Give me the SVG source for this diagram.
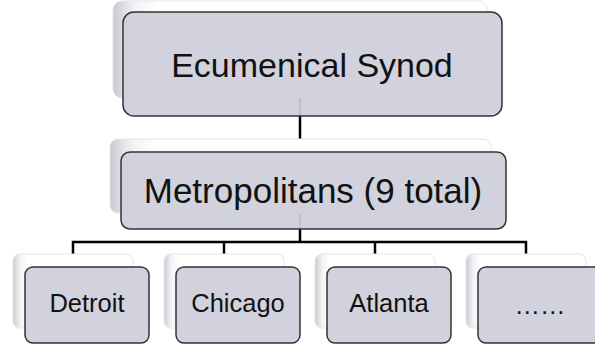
<svg xmlns="http://www.w3.org/2000/svg" width="595" height="345" viewBox="0 0 595 345">
  <defs>
    <linearGradient id="backGrad" x1="0" y1="0" x2="1" y2="0">
      <stop offset="0" stop-color="#c9c9d2"/>
      <stop offset="0.06" stop-color="#f3f3f6"/>
      <stop offset="0.12" stop-color="#ffffff"/>
      <stop offset="1" stop-color="#ffffff"/>
    </linearGradient>
  </defs>
  <style>
    .back { fill: url(#backGrad); stroke: #e4e4ea; stroke-width: 1; }
    .front { fill: #cfcfdc; fill-opacity: 0.93; stroke: #333333; stroke-width: 1.5; }
    .lbl { font-family: "Liberation Sans", Arial, sans-serif; fill: #111111; text-anchor: middle; }
    .conn { stroke: #000000; stroke-width: 2.5; fill: none; }
  </style>
  <rect width="595" height="345" fill="#ffffff"/>

  <g id="connectors">
    <line class="conn" x1="300" y1="98" x2="300" y2="139"/>
    <line class="conn" x1="300" y1="213" x2="300" y2="242"/>
    <polyline class="conn" points="73,254 73,242 526,242 526,254"/>
    <line class="conn" x1="224" y1="242" x2="224" y2="254"/>
    <line class="conn" x1="375" y1="242" x2="375" y2="254"/>
  </g>

  <g id="node-ecumenical-synod">
    <rect class="back" x="113" y="1" width="374" height="97" rx="9"/>
    <rect class="front" x="123" y="12" width="379" height="104" rx="11"/>
    <text class="lbl" x="312" y="77" font-size="34">Ecumenical Synod</text>
  </g>

  <g id="node-metropolitans">
    <rect class="back" x="110" y="139" width="381" height="74" rx="8"/>
    <rect class="front" x="121" y="152" width="385" height="77" rx="9"/>
    <text class="lbl" x="313" y="203" font-size="35">Metropolitans (9 total)</text>
  </g>

  <g id="node-detroit">
    <rect class="back" x="13" y="254" width="120" height="74" rx="7"/>
    <rect class="front" x="25" y="267" width="124" height="76" rx="8"/>
    <text class="lbl" x="87" y="312" font-size="25.5">Detroit</text>
  </g>

  <g id="node-chicago">
    <rect class="back" x="164" y="254" width="120" height="74" rx="7"/>
    <rect class="front" x="176" y="267" width="124" height="76" rx="8"/>
    <text class="lbl" x="238" y="312" font-size="25.5">Chicago</text>
  </g>

  <g id="node-atlanta">
    <rect class="back" x="315" y="254" width="120" height="74" rx="7"/>
    <rect class="front" x="327" y="267" width="124" height="76" rx="8"/>
    <text class="lbl" x="389" y="312" font-size="25.5">Atlanta</text>
  </g>

  <g id="node-more">
    <rect class="back" x="466" y="254" width="120" height="74" rx="7"/>
    <rect class="front" x="478" y="267" width="124" height="76" rx="8"/>
    <text class="lbl" x="540" y="314" font-size="25.5">……</text>
  </g>
</svg>
